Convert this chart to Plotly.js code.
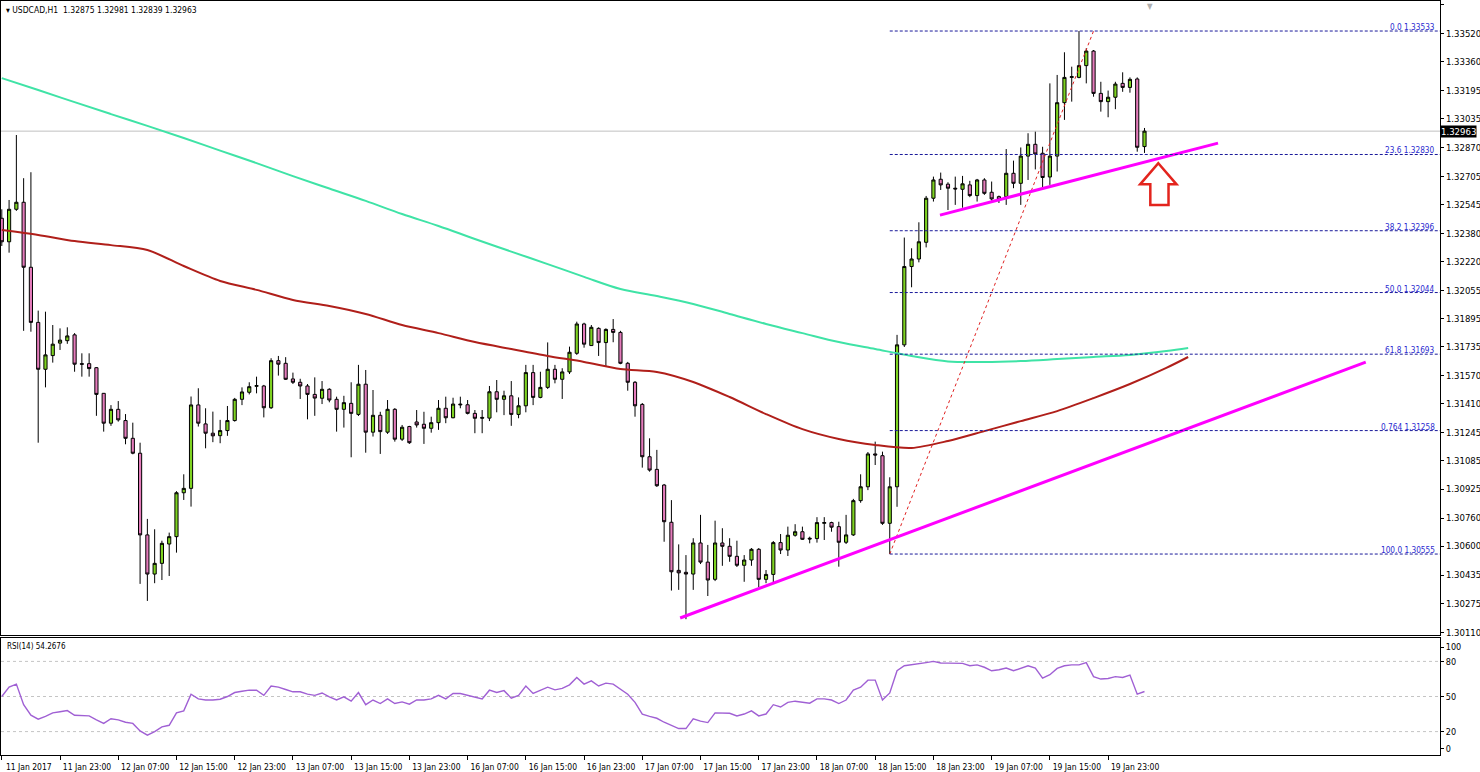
<!DOCTYPE html>
<html><head><meta charset="utf-8">
<script src="https://cdn.plot.ly/plotly-3.0.1.min.js"></script>
<style>html,body{margin:0;padding:0;background:#fff;}#chart{width:1480px;height:772px;}</style>
</head><body><div id="chart"></div>
<script>
// ---------- data ----------
const symbolName = 'USDCAD,H1';
const lastBarText = ['1.32875', '1.32981', '1.32839', '1.32963'];

const openP = [1.32467,1.32333,1.32518,1.32558,1.32188,1.31874,1.31607,1.31685,1.31756,1.31770,
1.31803,1.31639,1.31639,1.31616,1.31470,1.31300,1.31379,1.31315,1.31214,1.31129,
1.30664,1.30441,1.30502,1.30612,1.30654,1.30904,1.30929,1.31404,1.31296,1.31243,
1.31229,1.31258,1.31315,1.31436,1.31476,1.31510,1.31512,1.31388,1.31656,1.31641,
1.31552,1.31533,1.31512,1.31464,1.31442,1.31493,1.31436,1.31379,1.31413,1.31350,
1.31522,1.31249,1.31345,1.31249,1.31379,1.31209,1.31281,1.31307,1.31294,1.31271,
1.31303,1.31385,1.31331,1.31409,1.31405,1.31356,1.31333,1.31329,1.31479,1.31436,
1.31456,1.31350,1.31399,1.31588,1.31447,1.31504,1.31607,1.31550,1.31592,1.31698,
1.31865,1.31742,1.31840,1.31759,1.31834,1.31817,1.31641,1.31533,1.31407,1.31109,
1.31037,1.30948,1.30736,1.30462,1.30451,1.30441,1.30618,1.30509,1.30411,1.30618,
1.30599,1.30542,1.30491,1.30521,1.30582,1.30411,1.30439,1.30620,1.30578,1.30662,
1.30682,1.30645,1.30643,1.30730,1.30734,1.30711,1.30622,1.30664,1.30859,1.30938,
1.31125,1.31115,1.30730,1.30938,1.31746,1.32192,1.32235,1.32330,1.32581,1.32689,
1.32661,1.32638,1.32632,1.32657,1.32596,1.32685,1.32615,1.32590,1.32590,1.32723,
1.32666,1.32821,1.32888,1.32837,1.32702,1.32821,1.33125,1.33269,1.33269,1.33336,
1.33419,1.33178,1.33131,1.33156,1.33235,1.33212,1.33260,1.32875];

const highP = [1.32518,1.32571,1.32941,1.32695,1.32729,1.31941,1.31935,1.31859,1.31840,1.31846,
1.31813,1.31698,1.31698,1.31620,1.31472,1.31403,1.31426,1.31352,1.31303,1.31189,
1.30755,1.30696,1.30631,1.30677,1.30913,1.31009,1.31452,1.31499,1.31385,1.31366,
1.31319,1.31398,1.31444,1.31504,1.31533,1.31565,1.31518,1.31670,1.31683,1.31676,
1.31588,1.31553,1.31523,1.31561,1.31540,1.31499,1.31451,1.31456,1.31533,1.31632,
1.31603,1.31489,1.31365,1.31432,1.31386,1.31290,1.31285,1.31375,1.31365,1.31337,
1.31432,1.31451,1.31445,1.31451,1.31432,1.31375,1.31375,1.31512,1.31546,1.31485,
1.31540,1.31447,1.31632,1.31632,1.31593,1.31760,1.31632,1.31613,1.31736,1.31878,
1.31872,1.31859,1.31846,1.31840,1.31893,1.31826,1.31649,1.31540,1.31415,1.31214,
1.31148,1.30954,1.30862,1.30610,1.30549,1.30645,1.30778,1.30607,1.30745,1.30702,
1.30645,1.30631,1.30549,1.30589,1.30589,1.30464,1.30629,1.30669,1.30711,1.30725,
1.30711,1.30654,1.30765,1.30765,1.30739,1.30739,1.30778,1.30869,1.31009,1.31136,
1.31195,1.31138,1.30992,1.31803,1.32357,1.32296,1.32444,1.32594,1.32704,1.32727,
1.32672,1.32704,1.32708,1.32680,1.32691,1.32695,1.32676,1.32596,1.32861,1.32795,
1.32870,1.32951,1.32960,1.32874,1.33235,1.33283,1.33412,1.33330,1.33533,1.33435,
1.33425,1.33244,1.33194,1.33244,1.33298,1.33269,1.33269,1.32981];

const lowP = [1.32309,1.32271,1.32509,1.31826,1.31821,1.31189,1.31504,1.31645,1.31717,1.31752,
1.31593,1.31565,1.31565,1.31342,1.31252,1.31285,1.31309,1.31180,1.31123,1.30385,
1.30288,1.30389,1.30407,1.30430,1.30563,1.30863,1.30825,1.31281,1.31157,1.31192,
1.31186,1.31228,1.31309,1.31403,1.31464,1.31470,1.31333,1.31381,1.31571,1.31546,
1.31523,1.31438,1.31322,1.31342,1.31409,1.31419,1.31252,1.31275,1.31106,1.31341,
1.31132,1.31224,1.31125,1.31239,1.31195,1.31199,1.31182,1.31275,1.31182,1.31246,
1.31262,1.31300,1.31328,1.31385,1.31350,1.31243,1.31243,1.31312,1.31362,1.31346,
1.31285,1.31328,1.31362,1.31403,1.31442,1.31495,1.31527,1.31438,1.31580,1.31689,
1.31730,1.31740,1.31683,1.31622,1.31761,1.31636,1.31485,1.31337,1.31047,1.31024,
1.30937,1.30625,1.30347,1.30351,1.30184,1.30351,1.30498,1.30316,1.30401,1.30488,
1.30511,1.30481,1.30397,1.30488,1.30366,1.30389,1.30385,1.30555,1.30544,1.30654,
1.30635,1.30616,1.30620,1.30635,1.30682,1.30483,1.30612,1.30658,1.30847,1.30919,
1.31062,1.30721,1.30555,1.30824,1.31734,1.32074,1.32216,1.32301,1.32562,1.32628,
1.32514,1.32543,1.32527,1.32587,1.32562,1.32600,1.32567,1.32554,1.32543,1.32638,
1.32543,1.32685,1.32745,1.32638,1.32657,1.32733,1.33027,1.33131,1.33264,1.33235,
1.33159,1.33074,1.33042,1.33088,1.33187,1.33182,1.32846,1.32839];

const closeP = [1.32333,1.32518,1.32558,1.32188,1.31874,1.31607,1.31689,1.31750,1.31773,1.31797,
1.31636,1.31636,1.31611,1.31464,1.31300,1.31379,1.31319,1.31214,1.31129,1.30664,
1.30441,1.30502,1.30616,1.30654,1.30904,1.30929,1.31404,1.31300,1.31243,1.31228,
1.31258,1.31315,1.31436,1.31478,1.31508,1.31514,1.31388,1.31656,1.31636,1.31550,
1.31533,1.31512,1.31464,1.31443,1.31493,1.31432,1.31379,1.31417,1.31356,1.31522,
1.31249,1.31345,1.31252,1.31379,1.31209,1.31277,1.31189,1.31290,1.31271,1.31303,
1.31385,1.31331,1.31409,1.31405,1.31356,1.31328,1.31329,1.31479,1.31436,1.31456,
1.31350,1.31399,1.31588,1.31447,1.31504,1.31607,1.31550,1.31592,1.31704,1.31865,
1.31750,1.31846,1.31759,1.31834,1.31817,1.31641,1.31533,1.31399,1.31109,1.31033,
1.30944,1.30739,1.30454,1.30448,1.30441,1.30618,1.30509,1.30407,1.30618,1.30599,
1.30542,1.30491,1.30521,1.30582,1.30411,1.30439,1.30620,1.30578,1.30662,1.30682,
1.30639,1.30641,1.30734,1.30734,1.30708,1.30622,1.30664,1.30859,1.30938,1.31125,
1.31119,1.30730,1.30938,1.31746,1.32192,1.32235,1.32333,1.32581,1.32685,1.32657,
1.32638,1.32634,1.32663,1.32596,1.32685,1.32609,1.32577,1.32575,1.32723,1.32666,
1.32821,1.32888,1.32833,1.32699,1.32821,1.33125,1.33269,1.33273,1.33336,1.33419,
1.33178,1.33131,1.33156,1.33231,1.33212,1.33258,1.32871,1.32963];

// moving averages sampled at bar numbers (drawn shifted past the last bar, as in the source)
const maBars = [0,5,10,15,20,25,30,35,40,45,50,55,60,65,70,75,80,85,90,95,100,105,110,115,120,125,130,135,140,145,150,155,160,163];
const maRed = [1.32400,1.32372,1.32337,1.32314,1.32286,1.32195,1.32110,1.32059,1.32002,1.31967,
1.31922,1.31859,1.31813,1.31762,1.31722,1.31683,1.31649,1.31609,1.31592,1.31535,
1.31449,1.31352,1.31266,1.31210,1.31176,1.31159,1.31199,1.31255,1.31312,1.31369,
1.31443,1.31523,1.31615,1.31677];
const maGreen = [1.33265,1.33197,1.33128,1.33060,1.32993,1.32924,1.32852,1.32781,1.32707,1.32636,
1.32566,1.32491,1.32423,1.32349,1.32277,1.32206,1.32133,1.32064,1.32024,1.31979,
1.31922,1.31865,1.31813,1.31762,1.31722,1.31683,1.31652,1.31649,1.31654,1.31665,
1.31677,1.31689,1.31711,1.31728];

const rsiValues = [50,58,60.6,43,34,30.6,33,36,37,38,
34,34,33.4,30,27,31,30,28,27,20.6,
17,20,24,25.4,36,37.7,52,48,47,47,
47.7,50,53.4,54.5,55.4,55.4,51,59,58,56,
54,54,52,51,53,49.7,47,49.7,46,53.4,
43,47,44,48,44,45.4,43.4,47,47,48,
51,48,52.6,52.6,51,49.7,48,55.4,53.4,55,
48.6,51,59,52.6,55,58,55.7,57,60,66.3,
60.6,63.4,59,61.4,60.6,56,52,45,35,33,
31.4,28,25.4,22.6,22.6,31,29,27.7,36,36,
35.7,33.4,35,37.7,33.4,35,43,41,45,46,
45,44.3,48,48,47,44,47,55.4,58,64,
64,47,53,72,76.3,77,77.7,79,80,78.6,
78.5,78.3,78.3,76.3,77,75,72,72.9,74.3,72,
74,76.3,74.3,65.7,68.6,74,76.3,77,77,79,
67,64.9,65.4,67,66.3,68.3,52,54.27];
const rsiLabel = 'RSI(14) 54.2676';
const rsiLevels = [80, 50, 20];
const rsiTickVals = [92.3, 80, 50, 20, 5.4];
const rsiTickText = ['100', '80', '50', '20', '0'];

const timeTickBars = [0,8,16,24,32,40,48,56,64,72,80,88,96,104,112,120,128,136,144,152];
const timeTickText = ['11 Jan 2017','11 Jan 23:00','12 Jan 07:00','12 Jan 15:00','12 Jan 23:00',
'13 Jan 07:00','13 Jan 15:00','13 Jan 23:00','16 Jan 07:00','16 Jan 15:00','16 Jan 23:00',
'17 Jan 07:00','17 Jan 15:00','17 Jan 23:00','18 Jan 07:00','18 Jan 15:00','18 Jan 23:00',
'19 Jan 07:00','19 Jan 15:00','19 Jan 23:00'];

const priceTicks = [1.33685,1.33520,1.33360,1.33195,1.33035,1.32870,1.32705,1.32545,1.32380,1.32220,
1.32055,1.31895,1.31735,1.31570,1.31410,1.31245,1.31085,1.30925,1.30760,1.30600,1.30435,1.30275,1.30110];

const lastPrice = 1.32963;
const fibLabels = ['0.0','23.6','38.2','50.0','61.8','0.764','100.0'];
const fibPrices = [1.33533,1.32830,1.32396,1.32044,1.31693,1.31258,1.30555];
const fibSwingBars = [122, 150];
const fibSwingPrices = [1.30555, 1.33533];

const trendLowBars = [93.2, 187.4];
const trendLowPrices = [1.30191, 1.31648];
const trendHighBars = [128.9, 167.1];
const trendHighPrices = [1.32485, 1.32895];

const arrowBars = [158.9, 161.4, 160.3, 160.3, 157.8, 157.8, 156.4];
const arrowPrices = [1.32780, 1.32660, 1.32660, 1.32542, 1.32542, 1.32660, 1.32660];

// ---------- view ----------
const xRange = [-0.11, 197.6];
const yRange = [1.30094, 1.33704];
const FONT = "Tahoma, 'DejaVu Sans Condensed', 'DejaVu Sans', sans-serif";

const bars = closeP.map((_, i) => i);

const traces = [
  {type: 'scatter', mode: 'lines', x: maBars, y: maGreen, line: {color: '#3fe3a6', width: 2, shape: 'spline', smoothing: 1}, xaxis: 'x', yaxis: 'y', hoverinfo: 'skip'},
  {type: 'scatter', mode: 'lines', x: maBars, y: maRed, line: {color: '#b01f1a', width: 2, shape: 'spline', smoothing: 0.8}, xaxis: 'x', yaxis: 'y', hoverinfo: 'skip'},
  {type: 'candlestick', x: bars, open: openP, high: highP, low: lowP, close: closeP,
   increasing: {line: {color: '#000000', width: 1}, fillcolor: '#7ed321'},
   decreasing: {line: {color: '#000000', width: 1}, fillcolor: '#e47bbb'},
   whiskerwidth: 0, xaxis: 'x', yaxis: 'y', hoverinfo: 'skip'},
  {type: 'scatter', mode: 'lines', x: fibSwingBars, y: fibSwingPrices, line: {color: '#e02020', width: 1, dash: 'dot'}, xaxis: 'x', yaxis: 'y', hoverinfo: 'skip'},
  {type: 'scatter', mode: 'lines', x: trendLowBars, y: trendLowPrices, line: {color: '#ff00ff', width: 3}, xaxis: 'x', yaxis: 'y', hoverinfo: 'skip'},
  {type: 'scatter', mode: 'lines', x: trendHighBars, y: trendHighPrices, line: {color: '#ff00ff', width: 3}, xaxis: 'x', yaxis: 'y', hoverinfo: 'skip'},
  {type: 'scatter', mode: 'lines', x: bars, y: rsiValues, line: {color: '#a060d4', width: 1.4}, xaxis: 'x2', yaxis: 'y2', hoverinfo: 'skip'}
];

const shapes = [];
shapes.push({type: 'line', xref: 'x domain', yref: 'y', x0: 0, x1: 1, y0: lastPrice, y1: lastPrice,
  line: {color: '#c0c0c0', width: 1}, layer: 'below'});
fibPrices.forEach(p => shapes.push({type: 'line', xref: 'x', yref: 'y', x0: fibSwingBars[0], x1: xRange[1], y0: p, y1: p,
  line: {color: '#1a1a9a', width: 1, dash: '3px,2px'}}));
rsiLevels.forEach(v => shapes.push({type: 'line', xref: 'x2 domain', yref: 'y2', x0: 0, x1: 1, y0: v, y1: v,
  line: {color: '#c4c4c4', width: 1, dash: 'dot'}, layer: 'below'}));
shapes.push({type: 'path', xref: 'x', yref: 'y',
  path: 'M ' + arrowBars.map((b, i) => b + ',' + arrowPrices[i]).join(' L ') + ' Z',
  line: {color: '#e3241d', width: 2.5}, fillcolor: 'rgba(0,0,0,0)'});

const annotations = [];
annotations.push({xref: 'paper', yref: 'paper', x: 0, y: 1, xshift: 3, yshift: -2, xanchor: 'left', yanchor: 'top', showarrow: false,
  text: '▾ ' + symbolName + '  ' + lastBarText.join(' '), font: {family: FONT, size: 8.5, color: '#000'}});
annotations.push({xref: 'x', yref: 'paper', x: 157.8, y: 1, yanchor: 'top', yshift: 1, showarrow: false,
  text: '▼', font: {family: FONT, size: 8, color: '#b0b0b0'}});
annotations.push({xref: 'paper', yref: 'y', x: 1, y: lastPrice, xanchor: 'left', xshift: 0, showarrow: false,
  text: lastPrice.toFixed(5), bgcolor: '#000000', borderpad: 0, font: {family: FONT, size: 9.5, color: '#ffffff'}});
fibPrices.forEach((p, i) => annotations.push({xref: 'x', yref: 'y', x: xRange[1], y: p, xanchor: 'right', yanchor: 'bottom',
  xshift: -3, yshift: -3, showarrow: false, text: fibLabels[i] + ' ' + p.toFixed(5),
  font: {family: FONT, size: 8.2, color: '#2a2ad0'}}));
annotations.push({xref: 'paper', yref: 'paper', x: 0, y: 0.1552, xshift: 4, yshift: -2, xanchor: 'left', yanchor: 'top', showarrow: false,
  text: rsiLabel, font: {family: FONT, size: 8, color: '#000'}});

const layout = {
  width: 1480, height: 772,
  margin: {l: 1, r: 40, t: 1, b: 17},
  paper_bgcolor: '#ffffff', plot_bgcolor: '#ffffff',
  showlegend: false, hovermode: false, boxgap: 0.38,
  xaxis: {range: xRange, anchor: 'y', showticklabels: false, ticks: '', showgrid: false, zeroline: false,
    showline: true, mirror: true, linecolor: '#000', linewidth: 1, rangeslider: {visible: false}},
  yaxis: {domain: [0.15915, 1], range: yRange, side: 'right', anchor: 'x', tickvals: priceTicks,
    ticktext: priceTicks.map(v => v.toFixed(5)), ticks: 'outside', ticklen: 3, tickcolor: '#000',
    showgrid: false, zeroline: false, showline: true, mirror: true, linecolor: '#000', linewidth: 1,
    tickfont: {family: FONT, size: 9.5, color: '#000'}},
  xaxis2: {range: xRange, anchor: 'y2', tickvals: timeTickBars, ticktext: timeTickText, ticks: 'outside', ticklen: 4,
    tickcolor: '#000', ticklabelshift: 27, showgrid: false, zeroline: false, showline: true, mirror: true,
    linecolor: '#000', linewidth: 1, tickfont: {family: FONT, size: 8.5, color: '#000'}},
  yaxis2: {domain: [0, 0.15517], range: [0, 100], side: 'right', anchor: 'x2', tickvals: rsiTickVals, ticktext: rsiTickText,
    ticks: 'outside', ticklen: 3, tickcolor: '#000', showgrid: false, zeroline: false, showline: true, mirror: true,
    linecolor: '#000', linewidth: 1, tickfont: {family: FONT, size: 9, color: '#000'}},
  shapes: shapes,
  annotations: annotations
};

Plotly.newPlot('chart', traces, layout, {displayModeBar: false, staticPlot: true});
</script>
</body></html>
